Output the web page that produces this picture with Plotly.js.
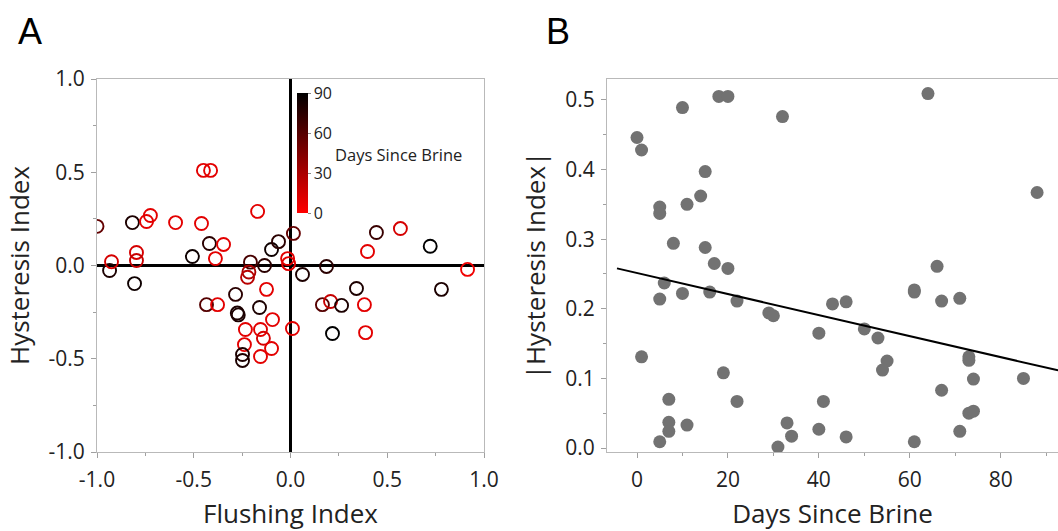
<!DOCTYPE html>
<html>
<head>
<meta charset="utf-8">
<script src="https://cdn.plot.ly/plotly-3.0.1.min.js"></script>
<style>html,body{margin:0;padding:0;background:#fff;}#chart{width:1058px;height:531px;}</style>
</head>
<body>
<div id="chart"></div>
<script>
// Panel A: flushing index, hysteresis index, days since brine (colour)
const flushingIndex = [-1.0,-0.935,-0.925,-0.817,-0.806,-0.796,-0.796,-0.744,-0.724,-0.594,-0.507,-0.46,-0.45,-0.413,-0.419,-0.388,-0.346,-0.17,-0.207,-0.134,-0.098,-0.062,0.015,-0.015,-0.01,-0.215,-0.222,-0.284,-0.124,-0.434,-0.377,-0.275,-0.27,-0.16,-0.093,-0.233,-0.155,-0.14,-0.238,-0.098,-0.155,-0.248,-0.248,0.01,0.062,0.186,0.341,0.165,0.207,0.264,0.382,0.217,0.388,0.398,0.722,0.78,0.915,0.444,0.568];
const hysteresisIndex = [0.21,-0.027,0.02,0.23,-0.097,0.07,0.027,0.236,0.268,0.23,0.048,0.225,0.51,0.51,0.118,0.037,0.113,0.29,0.018,0.0,0.086,0.128,0.172,0.037,0.01,-0.035,-0.063,-0.155,-0.128,-0.21,-0.21,-0.255,-0.265,-0.225,-0.29,-0.343,-0.343,-0.39,-0.424,-0.445,-0.488,-0.477,-0.509,-0.338,-0.048,-0.005,-0.123,-0.21,-0.193,-0.214,-0.21,-0.365,-0.36,0.075,0.103,-0.128,-0.021,0.177,0.198];
const daysA = [55,80,15,80,85,15,20,10,10,10,85,10,10,10,75,10,10,10,65,75,85,75,55,10,10,30,25,75,10,60,10,80,80,80,10,10,10,15,10,10,10,80,80,10,80,75,80,60,20,80,10,90,10,10,90,80,5,70,15];

// Panel B: days since brine vs |hysteresis index|
const daysB = [0,1,5,5,8,10,11,14,15,15,18,20,17,20,32,6,5,10,16,22,29,30,1,19,7,22,7,7,11,5,33,34,31,40,43,46,41,40,46,50,53,55,54,61,61,66,67,71,67,61,71,73,73,74,73,74,85,64,88];
const absHysteresis = [0.446,0.428,0.346,0.337,0.294,0.489,0.35,0.362,0.397,0.288,0.505,0.505,0.265,0.258,0.476,0.237,0.214,0.222,0.224,0.211,0.194,0.19,0.131,0.108,0.07,0.067,0.037,0.024,0.033,0.009,0.036,0.017,0.0015,0.165,0.207,0.21,0.067,0.027,0.016,0.171,0.158,0.125,0.112,0.227,0.224,0.261,0.211,0.215,0.083,0.009,0.024,0.131,0.126,0.099,0.05,0.053,0.1,0.509,0.367];

// Fitted line
const fitDays = [-4.4, 92.6];
const fitValues = [0.258, 0.1115];

// Tick labels
const tickValsA = [-1, -0.5, 0, 0.5, 1];
const tickTextA = ["-1.0", "-0.5", "0.0", "0.5", "1.0"];
const tickValsBx = [0, 20, 40, 60, 80];
const tickValsBy = [0, 0.1, 0.2, 0.3, 0.4, 0.5];
const tickTextBy = ["0.0", "0.1", "0.2", "0.3", "0.4", "0.5"];
const colorbarTicks = [0, 30, 60, 90];

const W = 1058, H = 531;
const px = v => v / W;
const py = v => (H - v) / H;

const FONT = "Open Sans, Noto Sans, sans-serif";
const lineCol = "#b9b9b9";
const tickCol = "#a0a0a0";

const traces = [
  {
    type: "scatter", mode: "markers",
    x: flushingIndex, y: hysteresisIndex,
    xaxis: "x", yaxis: "y",
    cliponaxis: true,
    marker: {
      symbol: "circle-open", size: 13,
      color: daysA, cmin: 0, cmax: 90,
      colorscale: [[0, "#ff0000"], [1, "#000000"]],
      line: {width: 1.9},
      colorbar: {
        x: px(297), xanchor: "left", xref: "paper", xpad: 0,
        y: py(153), yanchor: "middle", yref: "paper", ypad: 0,
        thickness: 11, thicknessmode: "pixels",
        len: 120, lenmode: "pixels",
        tickmode: "array", tickvals: colorbarTicks,
        ticks: "outside", ticklen: 3, tickcolor: "#888",
        outlinewidth: 0,
        tickfont: {family: FONT, size: 16, color: "#222"}
      }
    },
    hoverinfo: "x+y"
  },
  {
    type: "scatter", mode: "markers",
    x: daysB, y: absHysteresis,
    xaxis: "x2", yaxis: "y2",
    marker: {size: 13, color: "#727272", line: {width: 0}}
  },
  {
    type: "scatter", mode: "lines",
    x: fitDays, y: fitValues,
    xaxis: "x2", yaxis: "y2",
    line: {color: "#000", width: 2}
  }
];

const axisCommon = {
  ticks: "outside", ticklen: 5, tickcolor: tickCol, tickwidth: 1,
  showline: true, linecolor: lineCol, linewidth: 1,
  showgrid: false,
  tickfont: {family: FONT, size: 21, color: "#222"}
};

const layout = {
  width: W, height: H,
  margin: {l: 0, r: 0, t: 0, b: 0},
  paper_bgcolor: "#fff", plot_bgcolor: "#fff",
  showlegend: false,
  font: {family: FONT, color: "#222"},
  xaxis: Object.assign({}, axisCommon, {
    domain: [px(97), px(484)], range: [-1, 1], anchor: "y",
    tickmode: "array", tickvals: tickValsA, ticktext: tickTextA,
    mirror: true,
    zeroline: true, zerolinecolor: "#000", zerolinewidth: 2.5,
    minor: {tickmode: "linear", tick0: -1, dtick: 0.25, ticks: "outside", ticklen: 3, tickcolor: tickCol, showgrid: false},
    ticklabelstandoff: 4,
    title: {text: "Flushing Index", font: {family: FONT, size: 26, color: "#222"}, standoff: 15}
  }),
  yaxis: Object.assign({}, axisCommon, {
    domain: [py(452), py(79)], range: [-1, 1], anchor: "x",
    tickmode: "array", tickvals: tickValsA, ticktext: tickTextA,
    mirror: true,
    zeroline: true, zerolinecolor: "#000", zerolinewidth: 2.5,
    minor: {tickmode: "linear", tick0: -1, dtick: 0.25, ticks: "outside", ticklen: 3, tickcolor: tickCol, showgrid: false},
    ticklabelstandoff: 2,
    title: {text: "Hysteresis Index", font: {family: FONT, size: 26, color: "#222"}, standoff: 11}
  }),
  xaxis2: Object.assign({}, axisCommon, {
    domain: [px(607), 1], range: [-6.6, 92.6], anchor: "y2",
    tickmode: "array", tickvals: tickValsBx,
    mirror: true, zeroline: false,
    minor: {tickmode: "linear", tick0: 0, dtick: 10, ticks: "outside", ticklen: 3, tickcolor: tickCol, showgrid: false},
    ticklabelstandoff: 4,
    title: {text: "Days Since Brine", font: {family: FONT, size: 26, color: "#222"}, standoff: 15}
  }),
  yaxis2: Object.assign({}, axisCommon, {
    domain: [py(452), py(79)], range: [-0.0057, 0.530], anchor: "x2",
    tickmode: "array", tickvals: tickValsBy, ticktext: tickTextBy,
    mirror: false, zeroline: false,
    minor: {tickmode: "linear", tick0: 0, dtick: 0.05, ticks: "outside", ticklen: 3, tickcolor: tickCol, showgrid: false},
    ticklabelstandoff: 2,
    title: {text: "|Hysteresis Index|", font: {family: FONT, size: 26, color: "#222"}, standoff: 12}
  }),
  annotations: [
    {text: "A", xref: "paper", yref: "paper", x: px(30), y: py(32), xanchor: "center", yanchor: "middle", showarrow: false,
     font: {family: "Liberation Sans, Arial, sans-serif", size: 36, color: "#000"}},
    {text: "B", xref: "paper", yref: "paper", x: px(558), y: py(32), xanchor: "center", yanchor: "middle", showarrow: false,
     font: {family: "Liberation Sans, Arial, sans-serif", size: 36, color: "#000"}},
    {text: "Days Since Brine", xref: "paper", yref: "paper", x: px(333), y: py(154), xanchor: "left", yanchor: "middle", showarrow: false,
     font: {family: FONT, size: 16.5, color: "#222"}}
  ]
};

Plotly.newPlot("chart", traces, layout, {staticPlot: true, displayModeBar: false});
</script>
</body>
</html>
